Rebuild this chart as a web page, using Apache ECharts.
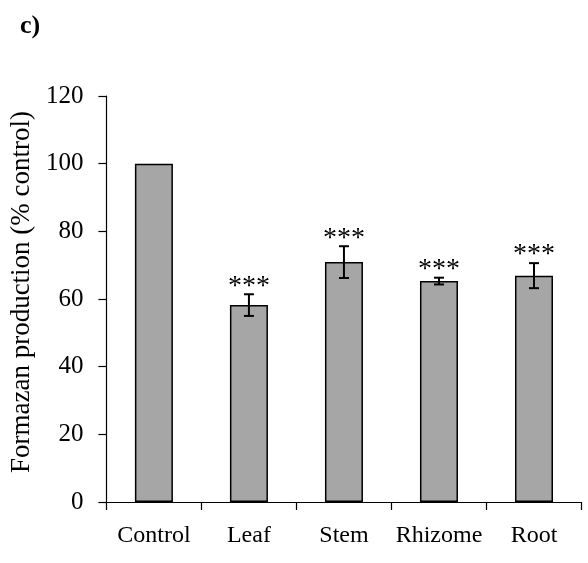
<!DOCTYPE html>
<html>
<head>
<meta charset="utf-8">
<script src="https://cdn.jsdelivr.net/npm/echarts@6/dist/echarts.min.js"></script>
<style>html,body{margin:0;padding:0;background:#fff;}#c{width:588px;height:563px;}</style>
</head>
<body>
<div id="c"></div>
<script>
var categories = ["Control", "Leaf", "Stem", "Rhizome", "Root"];
var means = [100, 58.2, 70.9, 65.3, 66.9];
var errors = [0, 3.2, 4.7, 1.0, 3.7];
var significance = ["", "***", "***", "***", "***"];
var yTicks = [0, 20, 40, 60, 80, 100, 120];

var font = "'Liberation Serif', 'Times New Roman', serif";
var chart = echarts.init(document.getElementById('c'), null, {renderer: 'canvas'});
var errData = categories.map(function (c, i) { return [i, means[i], errors[i]]; });

chart.setOption({
  animation: false,
  backgroundColor: '#fff',
  title: {
    text: 'c)', left: 15, top: 8,
    textStyle: {fontFamily: font, fontWeight: 'bold', fontSize: 26, color: '#000'}
  },
  grid: {left: 105, right: 6.5, top: 96, bottom: 61},
  xAxis: {
    type: 'category', data: categories,
    axisLine: {lineStyle: {color: '#000', width: 1.2}},
    axisTick: {show: true, interval: 0, alignWithLabel: false, length: 8, lineStyle: {color: '#000', width: 1.2}},
    axisLabel: {interval: 0, fontFamily: font, fontSize: 24, color: '#000', margin: 22}
  },
  yAxis: {
    type: 'value', min: yTicks[0], max: yTicks[yTicks.length - 1], interval: 20,
    name: 'Formazan production (% control)', nameLocation: 'middle', nameGap: 63,
    nameTextStyle: {fontFamily: font, fontSize: 27, color: '#000', padding: [0, 0, 0, 14]},
    axisLine: {show: true, lineStyle: {color: '#000', width: 1.2}},
    axisTick: {show: true, length: 8, lineStyle: {color: '#000', width: 1.2}},
    axisLabel: {fontFamily: font, fontSize: 25, color: '#000', margin: 23},
    splitLine: {show: false}
  },
  series: [
    {
      type: 'bar', data: means, barWidth: '40%',
      itemStyle: {color: '#a6a6a6', borderColor: '#000', borderWidth: 1.5},
      z: 2
    },
    {
      type: 'custom', data: errData, z: 5,
      renderItem: function (params, api) {
        var i = api.value(0), m = api.value(1), e = api.value(2);
        var sig = significance[i];
        var top = api.coord([i, m + e]);
        var bot = api.coord([i, m - e]);
        var children = [];
        var st = {stroke: '#000', lineWidth: 2};
        if (e > 0) {
          children.push({type: 'line', shape: {x1: top[0], y1: top[1], x2: bot[0], y2: bot[1]}, style: st});
          children.push({type: 'line', shape: {x1: top[0] - 5, y1: top[1], x2: top[0] + 5, y2: top[1]}, style: st});
          children.push({type: 'line', shape: {x1: bot[0] - 5, y1: bot[1], x2: bot[0] + 5, y2: bot[1]}, style: st});
        }
        if (sig) {
          children.push({type: 'text', style: {
            text: sig, x: top[0], y: top[1] - 8, align: 'center', verticalAlign: 'middle',
            font: '28px ' + font, fill: '#000'
          }});
        }
        return {type: 'group', children: children};
      }
    }
  ]
});
</script>
</body>
</html>
